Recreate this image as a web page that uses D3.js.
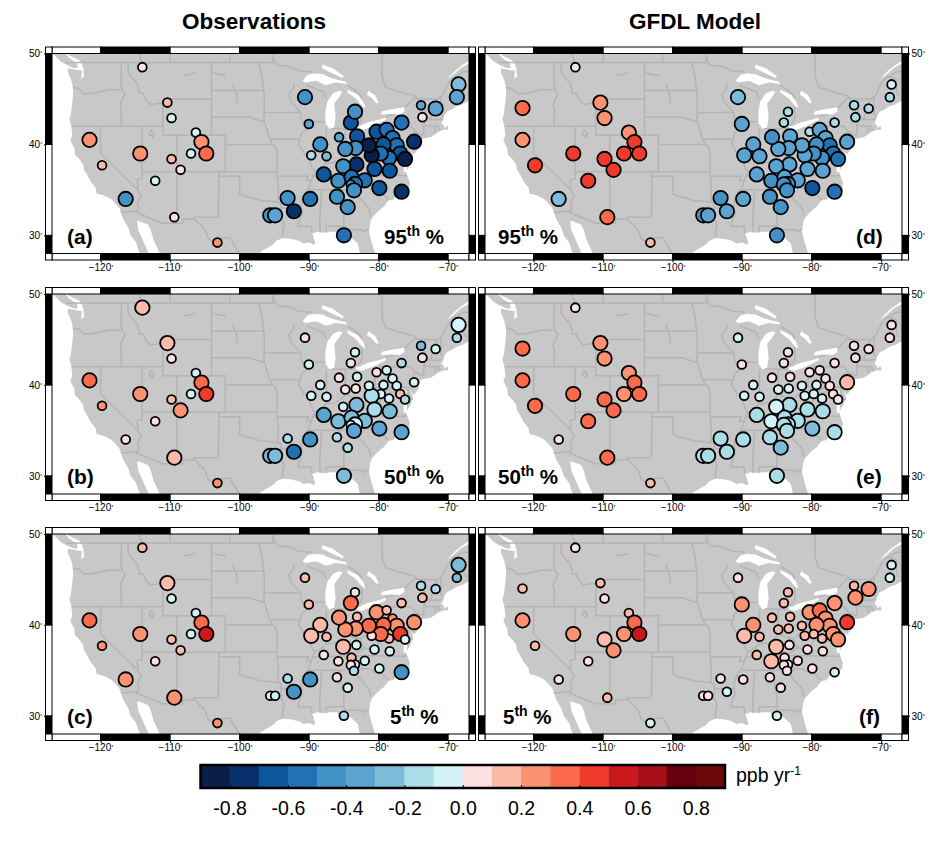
<!DOCTYPE html>
<html>
<head>
<meta charset="utf-8">
<script src="https://cdn.jsdelivr.net/npm/d3@7"></script>
<style>
  body { margin: 0; background: #fff; }
  svg { display: block; font-family: "Liberation Sans", sans-serif; }
</style>
</head>
<body>
<svg></svg>
<script>
// monitoring sites, the last one only exists in the model panels
let siteLon = [-114.0, -110.4, -109.8, -106.3, -105.5, -104.8, -107.0, -109.8, -108.5, -112.15, -114.3, -121.6, -119.8, -116.4, -109.4, -103.2, -95.6, -94.9,
    -68.5, -68.75, -73.9, -71.8, -73.7, -76.7, -74.9, -80.3, -78.85, -78.0, -77.4, -76.9, -76.2, -78.5, -79.3, -79.7, -81.0, -81.4, -83.1, -83.3, -84.8, -85.7, -84.0, -83.4,
    -90.6, -90.05, -88.4, -89.7, -87.5, -83.2, -85.1, -80.6, -78.4, -87.9, -85.8, -83.9, -82.0, -83.4, -84.0, -83.55, -79.9, -76.7, -86.0, -84.45, -89.85, -93.1, -92.2, -85.0, -121.6];
let siteLat = [48.5, 44.6, 42.9, 41.3, 40.26, 39.0, 39.0, 38.4, 37.2, 36.0, 39.0, 40.5, 37.7, 34.0, 32.0, 29.2, 32.2, 32.2,
    46.6, 45.2, 44.3, 43.95, 43.0, 42.4, 40.3, 41.4, 41.6, 40.7, 39.9, 39.0, 38.4, 38.5, 40.0, 39.0, 38.8, 39.9, 40.9, 39.6, 39.5, 40.8, 42.4, 43.6,
    45.2, 42.25, 40.0, 38.8, 38.7, 37.8, 37.6, 37.3, 37.1, 36.7, 36.0, 36.4, 36.05, 35.65, 35.6, 34.95, 35.2, 34.8, 34.25, 33.1, 34.0, 34.1, 32.65, 30.0, 44.0];

// trends in ppb/yr, one value per site
let obs95 = [.05, .15, -.05, -.05, .25, .35, -.05, .15, .05, -.05, .25, .25, .15, -.45, .05, .25, -.45, -.35,
    -.25, -.35, -.35, -.35, .05, -.55, -.75, -.65, -.55, -.55, -.55, -.65, -.85, -.55, -.65, -.55, -.85, -.85, -.65, -.45, -.45, -.35, -.65, -.45,
    -.45, -.35, -.45, -.15, -.25, -.75, -.45, -.65, -.65, -.65, -.45, -.55, -.55, -.55, -.35, -.45, -.65, -.75, -.45, -.45, -.55, -.45, -.75, -.55];
let obs50 = [.15, .15, .05, -.05, .35, .45, -.05, .15, .25, .05, .25, .35, .25, .05, .15, .25, -.25, -.25,
    -.05, -.15, -.25, -.05, .05, -.15, -.05, .05, -.05, -.05, -.05, .15, -.15, -.05, -.05, -.05, -.15, -.05, -.05, .05, .05, .05, .05, -.05,
    .05, -.05, -.05, -.05, -.05, -.25, -.05, -.15, -.25, -.35, -.25, -.25, -.25, -.05, -.05, -.35, -.35, -.35, -.15, -.15, -.45, -.15, -.55, -.25];
let obs5 = [.15, .15, -.05, -.05, .35, .55, -.05, .15, .15, .05, .25, .35, .25, .25, .25, .25, .05, -.05,
    -.25, -.25, -.15, -.15, .15, .15, .25, .25, .15, .25, .25, .45, -.05, .15, .35, .35, .05, .35, .15, .25, .25, .25, .35, .05,
    .15, .15, .15, .15, .15, -.05, .15, -.05, -.05, .05, .05, .15, -.05, .05, .05, -.15, -.05, -.45, .05, -.05, -.45, -.15, -.45, -.15];
let gfdl95 = [.05, .25, .25, .25, .45, .45, .45, .45, .45, .45, .45, .25, .45, -.25, .35, .15, -.45, -.35,
    -.05, -.15, -.15, -.15, -.15, -.15, -.35, -.15, -.35, -.35, -.55, -.55, -.55, -.45, -.45, -.45, -.35, -.35, -.35, -.35, -.35, -.45, -.15, -.15,
    -.25, -.35, -.35, -.35, -.35, -.35, -.35, -.35, -.35, -.35, -.45, -.35, -.35, -.45, -.45, -.45, -.65, -.55, -.45, -.45, -.35, -.45, -.35, -.45, .35];
let gfdl50 = [.05, .25, .25, .25, .35, .35, .25, .35, .35, .35, .35, .35, .35, .05, .35, .15, -.15, -.15,
    .05, .05, .05, .05, .05, .05, .15, .05, .05, .05, .05, .05, .05, -.05, -.05, -.05, -.05, -.05, .05, -.05, -.05, .05, .05, .05,
    -.05, .05, -.05, -.05, -.05, -.15, -.05, -.15, -.15, -.15, -.05, -.15, -.15, -.15, -.15, -.15, -.25, -.15, -.15, -.25, -.15, -.15, -.15, -.15, .35];
let gfdl5 = [.05, .15, .05, .15, .35, .55, .25, .15, .25, .05, .25, .25, .15, .05, .15, -.05, .05, .05,
    -.05, -.05, .15, .25, .25, .25, .45, .25, .35, .25, .25, .25, .25, .15, .25, .15, .15, .15, .15, .15, .15, .15, .15, .15,
    .05, .25, .25, .15, .15, .05, .15, .05, .05, .15, .15, .05, .05, -.05, .05, .05, .05, -.05, .05, .05, .05, .05, -.05, -.05, .15];

// sites drawn with the small marker in each panel
let obs95Small = [0, 1, 2, 3, 6, 7, 8, 9, 12, 14, 15, 20, 22, 39, 43, 45, 46, 56];
let obs50Small = [2, 3, 6, 7, 9, 12, 13, 15, 19, 20, 21, 22, 23, 24, 25, 26, 27, 28, 29, 30, 31, 32, 33, 35, 36, 37, 38, 39, 40, 41, 42, 43, 44, 45, 46, 48, 56, 60, 61, 63];
let obs5Small = [0, 2, 3, 6, 7, 8, 9, 12, 15, 16, 17, 19, 20, 21, 22, 23, 26, 27, 30, 31, 34, 36, 41, 42, 43, 46, 47, 49, 50, 51, 52, 53, 54, 55, 56, 57, 58, 60, 61, 63, 65];
let gfdl95Small = [0, 15, 18, 19, 20, 21, 22, 23, 25, 40, 41];
let gfdl50Small = [0, 13, 15, 18, 19, 20, 21, 22, 23, 25, 26, 27, 28, 29, 30, 31, 32, 33, 34, 35, 36, 37, 38, 39, 40, 41, 42, 43, 44, 45, 46];
let gfdl5Small = [0, 1, 2, 3, 9, 12, 13, 14, 15, 16, 17, 18, 19, 20, 31, 33, 34, 35, 36, 37, 38, 39, 40, 41, 42, 46, 47, 49, 50, 51, 53, 54, 55, 56, 57, 58, 59, 60, 61, 62, 63, 64, 65, 66];

let colorEdges = [-.8, -.7, -.6, -.5, -.4, -.3, -.2, -.1, 0, .1, .2, .3, .4, .5, .6, .7, .8];
let binColors = ["#0a1f47", "#08306b", "#0c5699", "#2371b5", "#4292c6", "#5ba3d0", "#7cbcd9", "#abdde8", "#d3f3f9",
    "#fde0e0", "#fcbba8", "#fc9272", "#fb6a4a", "#ef3b2c", "#cb181d", "#a50f15", "#67000d", "#6b0808"];
let barTicks = [-.8, -.6, -.4, -.2, 0, .2, .4, .6, .8];
let lonTicks = [-120, -110, -100, -90, -80, -70];
let latTicks = [30, 40, 50];
let lonEdges = [-127, -120, -110, -100, -90, -80, -70, -67];
let latEdges = [28, 30, 40, 50];

// land outline, west coast going south, round the gulf, up the east coast
let landOutline = [[-128, 51], [-125, 50.3], [-124.6, 49.8], [-123.2, 49.3], [-122.8, 49], [-122.5, 48.4], [-122.4, 47.5], [-122.8, 47.2], [-122.7, 48.1], [-123.2, 48.15], [-124.7, 48.38], [-124.7, 47.9], [-124.2, 47], [-124, 46.3],
    [-123.95, 45.5], [-124.1, 44.5], [-124.3, 43.3], [-124.5, 42.8], [-124.2, 42], [-124.1, 41], [-124.35, 40.4], [-123.8, 39.6], [-123.7, 38.9], [-123, 38.3], [-122.5, 37.8], [-122.4, 37.2], [-121.9, 36.6], [-121.5, 36],
    [-120.7, 35.2], [-120.6, 34.6], [-119.6, 34.4], [-118.5, 34], [-118, 33.6], [-117.3, 33], [-117.1, 32.5], [-116.7, 31.7], [-116, 30.8], [-115.7, 30], [-114.9, 29.2], [-114.4, 28], [-114.2, 27], [-113, 27],
    [-113.2, 28.2], [-113.9, 29.4], [-114.6, 30.6], [-114.75, 31.6], [-114.2, 31.5], [-113.2, 31.2], [-112.8, 30.6], [-112.4, 29.5], [-111.6, 28.2], [-111, 27],
    [-97.5, 27], [-97.2, 27.9], [-97, 28.2], [-96.3, 28.5], [-95.2, 29], [-94.7, 29.4], [-93.8, 29.7], [-92.5, 29.6], [-91.5, 29.4], [-90.8, 29.1], [-90, 29.2], [-89.4, 29], [-89.1, 29.1], [-89.4, 29.9], [-89.6, 30.2], [-88.8, 30.4],
    [-88, 30.3], [-87, 30.4], [-86, 30.4], [-85.4, 29.7], [-84.3, 30], [-83.7, 29.6], [-83, 29.1], [-82.7, 28], [-82.6, 27], [-80.2, 27], [-80.5, 28], [-81, 29.2], [-81.4, 30.4], [-81.2, 31.5], [-80.9, 32], [-80, 32.7], [-79.2, 33.2],
    [-78.6, 33.85], [-77.9, 33.9], [-77.2, 34.6], [-76.5, 34.7], [-75.6, 35.2], [-75.5, 35.8], [-75.9, 36.6], [-76, 36.9], [-76.4, 37], [-76.4, 38], [-76.5, 39.2], [-76, 39.4], [-76, 38.5], [-75.9, 37.5], [-76, 37.1], [-75.5, 37.7],
    [-75.1, 38.4], [-75.1, 38.8], [-75.5, 39.4], [-75.1, 39], [-74.9, 38.95], [-74.3, 39.5], [-74, 40.4], [-73.9, 40.6], [-72.5, 40.8], [-71.9, 41.1], [-71.4, 41.4], [-71, 41.5], [-70.6, 41.6], [-70, 41.6], [-69.95, 41.7], [-70.1, 42.05],
    [-70.5, 41.8], [-70.7, 42.2], [-71, 42.3], [-70.7, 42.7], [-70.6, 43.1], [-70.2, 43.6], [-69.5, 43.85], [-68.8, 44.2], [-68, 44.4], [-67, 44.8], [-66, 45.1], [-66, 51]];
let vancouverIsland = [[-128, 50.6], [-127, 50.05], [-126.5, 49.7], [-125.7, 49.1], [-124.8, 48.7], [-123.9, 48.4], [-123.3, 48.4], [-123.4, 48.9], [-124.5, 49.5], [-125.2, 50.1], [-125.8, 50.5]];

// white water on top of the land
let waterBodies = [
    [[-88.1, 48.75], [-86.65, 48.4], [-85, 47.5], [-85.2, 47.3], [-86.9, 47.9], [-88.2, 48.4]],
    [[-90.95, 47], [-90.2, 47.65], [-89.3, 47.8], [-88.1, 47.75], [-87.1, 47.4], [-85.9, 47.1], [-84.7, 46.9], [-84.5, 46.65], [-86.2, 46.8], [-87.6, 46.5], [-89, 47], [-90.5, 46.8]],
    [[-85.7, 45.9], [-86.6, 45.6], [-87.4, 44.7], [-87.7, 43.4], [-87.6, 42.3], [-87.1, 41.7], [-86.4, 41.9], [-86.2, 43], [-86.4, 44.5], [-85.7, 45.2], [-85.2, 45.8]],
    [[-84.5, 46], [-83, 45.5], [-82.2, 44.7], [-81.9, 44], [-82.4, 44.2], [-83.2, 45], [-84.5, 45.7]],
    [[-81.5, 45.9], [-80.5, 45.4], [-80, 44.6], [-80.3, 44.5], [-81, 45.1], [-81.7, 45.5]],
    [[-83.3, 41.7], [-82.5, 41.55], [-81.5, 41.8], [-80.3, 42.2], [-79, 42.7], [-78.9, 42.95], [-80, 42.7], [-81.5, 42.45], [-82.8, 42], [-83.2, 42]],
    [[-79.7, 43.25], [-78.5, 43.35], [-77, 43.3], [-76.3, 43.6], [-76.3, 44.1], [-77, 44], [-78.5, 43.8], [-79.5, 43.65]],
    [[-71, 46.8], [-70, 47.3], [-69, 48.1], [-68, 48.7], [-67, 49.2], [-66, 49.5], [-66, 49.1], [-67, 48.9], [-68.2, 48.4], [-69.5, 47.5]]
];

// country and state lines
let borderLines = [
    [[-125, 49], [-95.15, 49], [-95.15, 49.4], [-94.6, 48.7], [-93, 48.6], [-91.5, 48.1], [-89.6, 48]],
    [[-84.5, 46.5], [-83.5, 46], [-82.5, 45.3], [-82.4, 43], [-82.5, 42.6], [-83.1, 42.1]],
    [[-79, 43], [-76.8, 43.6], [-75, 45], [-71.5, 45], [-70.8, 45.4], [-70.3, 46.2], [-70, 46.7], [-69.2, 47.45], [-68.3, 47.35], [-67.8, 47.1], [-67.8, 45.7], [-67.4, 45.3]],
    [[-117.1, 32.5], [-114.7, 32.7], [-114.8, 32.5], [-111.07, 31.33], [-108.2, 31.33], [-108.2, 31.78], [-106.5, 31.78], [-105, 30.65], [-104.5, 29.6], [-103.2, 29], [-102.7, 29.7], [-101.4, 29.77], [-100.3, 28.3], [-99.5, 27.5]],
    [[-124, 46.25], [-123.2, 46.15], [-122.3, 45.55], [-121, 45.65], [-119.3, 45.93], [-119, 46], [-116.92, 46]],
    [[-117.03, 49], [-117.04, 46.4], [-116.92, 46], [-116.5, 45.5], [-116.9, 44.9], [-117.2, 44.4], [-117.03, 43.8], [-117.03, 42]],
    [[-124.2, 42], [-111.05, 42]],
    [[-120, 42], [-120, 39], [-114.63, 35], [-114.15, 34.3], [-114.5, 33.9], [-114.7, 33.4], [-114.5, 33], [-114.72, 32.72]],
    [[-114.04, 42], [-114.04, 36.2], [-114.75, 36.1], [-114.63, 35]],
    [[-114.04, 37], [-94.62, 37]],
    [[-109.05, 41], [-109.05, 31.33]],
    [[-111.05, 45], [-111.05, 41], [-102.05, 41], [-102.05, 37]],
    [[-111.05, 45], [-104.05, 45]],
    [[-116.05, 49], [-116.05, 48], [-115.7, 47.5], [-114.7, 46.7], [-114.4, 45.6], [-113.9, 45.6], [-113.4, 44.8], [-112.8, 44.4], [-111.5, 44.55], [-111.05, 44.5]],
    [[-104.05, 49], [-104.05, 41]],
    [[-104.05, 45.94], [-96.56, 45.94]],
    [[-104.05, 43], [-98.5, 43], [-97.9, 42.8], [-96.5, 42.5]],
    [[-102.05, 40], [-95.3, 40]],
    [[-103, 37], [-103, 36.5], [-100, 36.5], [-100, 34.56], [-99.2, 34.3], [-98, 34.1], [-97, 33.8], [-96, 33.8], [-94.48, 33.64]],
    [[-103, 36.5], [-103.05, 32], [-106.6, 32], [-106.5, 31.78]],
    [[-94.48, 33.64], [-94.04, 33.55], [-94.04, 31.9], [-93.6, 31.2], [-93.8, 30.5], [-93.85, 29.7]],
    [[-97.2, 49], [-96.8, 47.5], [-96.56, 45.94], [-96.45, 45.3], [-96.45, 43.5], [-91.22, 43.5]],
    [[-96.45, 43.5], [-96.5, 42.5], [-96, 41.5], [-95.9, 41], [-95.3, 40], [-94.9, 39.8], [-94.6, 39.1], [-94.62, 36.5], [-94.43, 35.4], [-94.48, 33.64]],
    [[-95.77, 40.58], [-91.73, 40.6], [-91.4, 40.4]],
    [[-94.62, 36.5], [-90.15, 36.5], [-90.37, 36], [-89.7, 36]],
    [[-94.04, 33], [-91.15, 33]],
    [[-92.1, 46.75], [-92.3, 46.1], [-92.9, 45.6], [-92.75, 44.8], [-91.2, 43.5], [-91.1, 42.7], [-90.2, 41.8], [-91.1, 41.2], [-91.4, 40.4], [-91.5, 40], [-90.7, 39], [-90.2, 38.7], [-89.5, 37.3], [-89.15, 37], [-89.5, 36.5], [-89.7, 36], [-90.1, 35.1], [-90.6, 34.7], [-91.1, 33.8], [-91.15, 33], [-91, 32.4], [-91.5, 31.5], [-91.6, 31], [-89.75, 31], [-89.6, 30.2]],
    [[-90.6, 42.5], [-87.8, 42.5]],
    [[-90.4, 46.55], [-89, 46.1], [-88, 45.8], [-87.6, 45.1]],
    [[-89.15, 37], [-88.1, 37.5], [-87.6, 37.9], [-86.5, 38], [-85.7, 38.3], [-85, 38.7], [-84.8, 39.1], [-84.2, 38.8], [-83.7, 38.65], [-82.6, 38.45], [-81.8, 39], [-81, 39.5], [-80.6, 40.6]],
    [[-87.53, 41.7], [-87.53, 39.35], [-87.6, 37.9]],
    [[-84.8, 41.76], [-84.8, 39.1]],
    [[-87.1, 41.76], [-83.45, 41.73]],
    [[-80.52, 42], [-80.52, 39.72], [-75.79, 39.72], [-75.7, 38.46], [-75.05, 38.45]],
    [[-79.76, 42.27], [-79.76, 42], [-75.35, 42], [-74.7, 41.36], [-75.1, 41], [-75.1, 40.6], [-74.8, 40.2], [-75.4, 39.8]],
    [[-74.7, 41.36], [-73.65, 41]],
    [[-79.48, 39.72], [-79.48, 39.2], [-78.4, 39.6], [-77.8, 39.6], [-77.7, 39.3], [-77.1, 38.9], [-76.3, 38]],
    [[-77.8, 39.2], [-78.4, 39.2], [-78.9, 38.7], [-79.6, 38.5], [-80.3, 37.5], [-81.3, 37.3], [-81.95, 37.5], [-82.3, 37.7], [-82.6, 38.45]],
    [[-81.95, 37.5], [-83.7, 36.6]],
    [[-89.5, 36.5], [-88, 36.5], [-83.7, 36.6], [-81.68, 36.6], [-75.9, 36.55]],
    [[-90.3, 35], [-83.1, 35], [-82.3, 35.2], [-81, 35.15], [-80.8, 34.85], [-79.7, 34.8], [-78.55, 33.85]],
    [[-84.3, 35], [-82.5, 36], [-81.68, 36.6]],
    [[-83.1, 35], [-83.35, 34.7], [-82.6, 34], [-81.4, 33], [-81.1, 32.1]],
    [[-85.6, 35], [-85.2, 32.9], [-85, 32.3], [-85, 31], [-84.85, 30.7], [-82.2, 30.57], [-82.05, 30.37], [-81.45, 30.7]],
    [[-88.2, 35], [-88.47, 31.9], [-88.4, 30.3]],
    [[-87.6, 31], [-85, 31]],
    [[-87.6, 31], [-87.5, 30.3]],
    [[-73.35, 45], [-73.3, 43.6], [-73.25, 42.75], [-73.5, 42.05], [-73.5, 41.3], [-73.65, 41]],
    [[-71.5, 45], [-72.05, 44], [-72.45, 43], [-72.45, 42.73]],
    [[-73.25, 42.75], [-71.3, 42.7], [-70.8, 42.85]],
    [[-73.5, 42.05], [-71.4, 42], [-71.2, 41.5]],
    [[-71.8, 42], [-71.85, 41.3]],
    [[-71.05, 45.3], [-71, 43.3], [-70.7, 43.1]],
    [[-79.5, 50.5], [-79.5, 47.5], [-79, 46.3], [-77, 45.8], [-75, 45.4], [-74.3, 45]],
    [[-95.15, 50.5], [-95.15, 49]],
    [[-101.5, 50.5], [-101.4, 49]],
    [[-110, 50.5], [-110, 49]],
    [[-114.7, 50.5], [-114.1, 49]],
    [[-69, 47.4], [-67.8, 48], [-66, 48]],
    // reservoirs and rivers that show up in the base map
    [[-108, 47.6], [-107.2, 47.7], [-106.4, 47.9]],
    [[-103.9, 47.9], [-103, 47.7], [-102, 47.6]],
    [[-101, 46.7], [-100.5, 45.6], [-100.3, 44.5]],
    [[-112.8, 41.6], [-112.3, 41.2], [-112.5, 40.8], [-113, 41.1], [-112.8, 41.6]]
];

let panels = [
    { values: obs95, small: obs95Small, label: "(a)", pct: "95", col: 0, row: 0 },
    { values: obs50, small: obs50Small, label: "(b)", pct: "50", col: 0, row: 1 },
    { values: obs5, small: obs5Small, label: "(c)", pct: "5", col: 0, row: 2 },
    { values: gfdl95, small: gfdl95Small, label: "(d)", pct: "95", col: 1, row: 0 },
    { values: gfdl50, small: gfdl50Small, label: "(e)", pct: "50", col: 1, row: 1 },
    { values: gfdl5, small: gfdl5Small, label: "(f)", pct: "5", col: 1, row: 2 }
];

let svgWidth = 940, svgHeight = 845;
let mapWidth = 417, mapHeight = 200, band = 6.5;
let colX = [52, 485], rowY = [53.5, 294, 534];

let svg = d3.select("svg").attr("width", svgWidth).attr("height", svgHeight);

let x = d3.scaleLinear().domain([-127, -67]).range([0, mapWidth]);
let y = d3.scaleLinear().domain([28, 50]).range([mapHeight, 0]);
let color = d3.scaleThreshold().domain(colorEdges).range(binColors);
let radius = d3.scaleOrdinal().domain(["small", "large"]).range([4.4, 7.2]);

let lineMap = d3.line().x(function (d) { return x(d[0]) }).y(function (d) { return y(d[1]) });

svg.append("defs").append("clipPath").attr("id", "mapClip")
    .append("rect").attr("width", mapWidth).attr("height", mapHeight);

function degreeLabels(axisG) {
    axisG.selectAll("text").each(function () {
        let t = d3.select(this);
        let s = t.text();
        t.text(s);
        t.append("tspan").attr("font-size", 6).attr("dy", -2).text("\u00b0");
    });
}

function drawFrame(g) {
    // checkered band on the four sides
    let lonPairs = d3.pairs(lonEdges);
    let latPairs = d3.pairs(latEdges);
    [-band, mapHeight].forEach(function (top) {
        g.selectAll(null).data(lonPairs).enter().append("rect")
            .attr("x", function (d) { return x(d[0]) })
            .attr("y", top)
            .attr("width", function (d) { return x(d[1]) - x(d[0]) })
            .attr("height", band)
            .attr("fill", function (d, i) { return i % 2 ? "#000" : "#fff" })
            .attr("stroke", "#000").attr("stroke-width", 1);
    });
    [-band, mapWidth].forEach(function (left) {
        g.selectAll(null).data(latPairs).enter().append("rect")
            .attr("x", left)
            .attr("y", function (d) { return y(d[1]) })
            .attr("width", band)
            .attr("height", function (d) { return y(d[0]) - y(d[1]) })
            .attr("fill", function (d, i) { return i % 2 ? "#fff" : "#000" })
            .attr("stroke", "#000").attr("stroke-width", 1);
    });
    // corner squares
    [[-band, -band], [mapWidth, -band], [-band, mapHeight], [mapWidth, mapHeight]].forEach(function (c) {
        g.append("rect").attr("x", c[0]).attr("y", c[1]).attr("width", band).attr("height", band)
            .attr("fill", "#fff").attr("stroke", "#000").attr("stroke-width", 1);
    });
}

panels.forEach(function (p) {
    let g = svg.append("g").attr("transform", "translate(" + colX[p.col] + "," + rowY[p.row] + ")");

    let map = g.append("g").attr("clip-path", "url(#mapClip)");
    map.append("path").attr("d", lineMap(landOutline) + "Z").attr("fill", "#c8c8c8");
    map.append("path").attr("d", lineMap(vancouverIsland) + "Z").attr("fill", "#c8c8c8");
    map.selectAll(null).data(borderLines).enter().append("path")
        .attr("d", lineMap)
        .attr("fill", "none")
        .attr("stroke", "#b4b4b4")
        .attr("stroke-width", 1.5);
    map.selectAll(null).data(waterBodies).enter().append("path")
        .attr("d", function (d) { return lineMap(d) + "Z" })
        .attr("fill", "#fff");

    drawFrame(g);

    let bottomAxis = g.append("g").attr("transform", "translate(0," + (mapHeight + band) + ")")
        .call(d3.axisBottom(x).tickValues(lonTicks).tickSize(2.5).tickPadding(1)
            .tickFormat(function (d) { return "\u2212" + Math.abs(d) }));
    bottomAxis.select(".domain").remove();
    bottomAxis.attr("font-size", 10).attr("font-family", "Liberation Sans");
    degreeLabels(bottomAxis);

    let side = p.col == 0 ? d3.axisLeft(y) : d3.axisRight(y);
    let sideAxis = g.append("g").attr("transform", "translate(" + (p.col == 0 ? -band : mapWidth + band) + ",0)")
        .call(side.tickValues(latTicks).tickSize(1.5).tickPadding(1.5));
    sideAxis.select(".domain").remove();
    sideAxis.attr("font-size", 10).attr("font-family", "Liberation Sans");
    degreeLabels(sideAxis);

    // stations
    let sites = p.values.map(function (v, i) { return { lon: siteLon[i], lat: siteLat[i], v: v, i: i } });
    g.selectAll(null).data(sites).enter().append("circle")
        .attr("cx", function (d) { return x(d.lon) })
        .attr("cy", function (d) { return y(d.lat) })
        .attr("r", function (d) { return radius(p.small.indexOf(d.i) >= 0 ? "small" : "large") })
        .attr("fill", function (d) { return color(d.v) })
        .attr("stroke", "#000")
        .attr("stroke-width", 1.8);

    // panel letter and percentile, on opposite corners in each column
    let labelX = p.col == 0 ? 15 : { "(d)": 371, "(e)": 371, "(f)": 374 }[p.label];
    g.append("text").attr("x", labelX).attr("y", 190)
        .attr("font-size", 21).attr("font-weight", "bold").text(p.label);
    let pctX = p.col == 0 ? (p.pct == "5" ? 338 : 332) : 13 + (p.pct == "5" ? 5 : 0);
    let pctText = g.append("text").attr("x", pctX).attr("y", 190)
        .attr("font-size", 20.5).attr("font-weight", "bold");
    pctText.append("tspan").text(p.pct);
    pctText.append("tspan").attr("font-size", 14).attr("dy", -8).text("th");
    pctText.append("tspan").attr("dy", 8).text(" %");
});

svg.append("text").attr("x", 254).attr("y", 29).attr("text-anchor", "middle")
    .attr("font-size", 22.5).attr("font-weight", "bold").text("Observations");
svg.append("text").attr("x", 695).attr("y", 29).attr("text-anchor", "middle")
    .attr("font-size", 22.5).attr("font-weight", "bold").text("GFDL Model");

// colour bar
let barX = d3.scaleLinear().domain([-.9, .9]).range([200.5, 725]);
let barY = 765, barH = 23;
let barEdges = [-.9].concat(colorEdges, [.9]);
let barG = svg.append("g").attr("transform", "translate(0," + barY + ")");
barG.selectAll(null).data(d3.pairs(barEdges)).enter().append("rect")
    .attr("x", function (d) { return barX(d[0]) })
    .attr("width", function (d) { return barX(d[1]) - barX(d[0]) + .3 })
    .attr("height", barH)
    .attr("fill", function (d, i) { return binColors[i] });
let barAxis = barG.append("g").attr("transform", "translate(0," + barH + ")")
    .call(d3.axisBottom(barX).tickValues(barTicks).tickSize(-3).tickPadding(13)
        .tickFormat(function (d) { return d3.format(".1f")(d).replace("\u2212", "-") }));
barAxis.select(".domain").remove();
barAxis.attr("font-size", 19.5).attr("font-family", "Liberation Sans");
barG.append("rect").attr("x", barX(-.9)).attr("width", barX(.9) - barX(-.9)).attr("height", barH)
    .attr("fill", "none").attr("stroke", "#000").attr("stroke-width", 2.5);

let unit = svg.append("text").attr("x", 736).attr("y", 782).attr("font-size", 19.5);
unit.append("tspan").text("ppb yr");
unit.append("tspan").attr("font-size", 12).attr("dy", -7).text("-1");
</script>
</body>
</html>
